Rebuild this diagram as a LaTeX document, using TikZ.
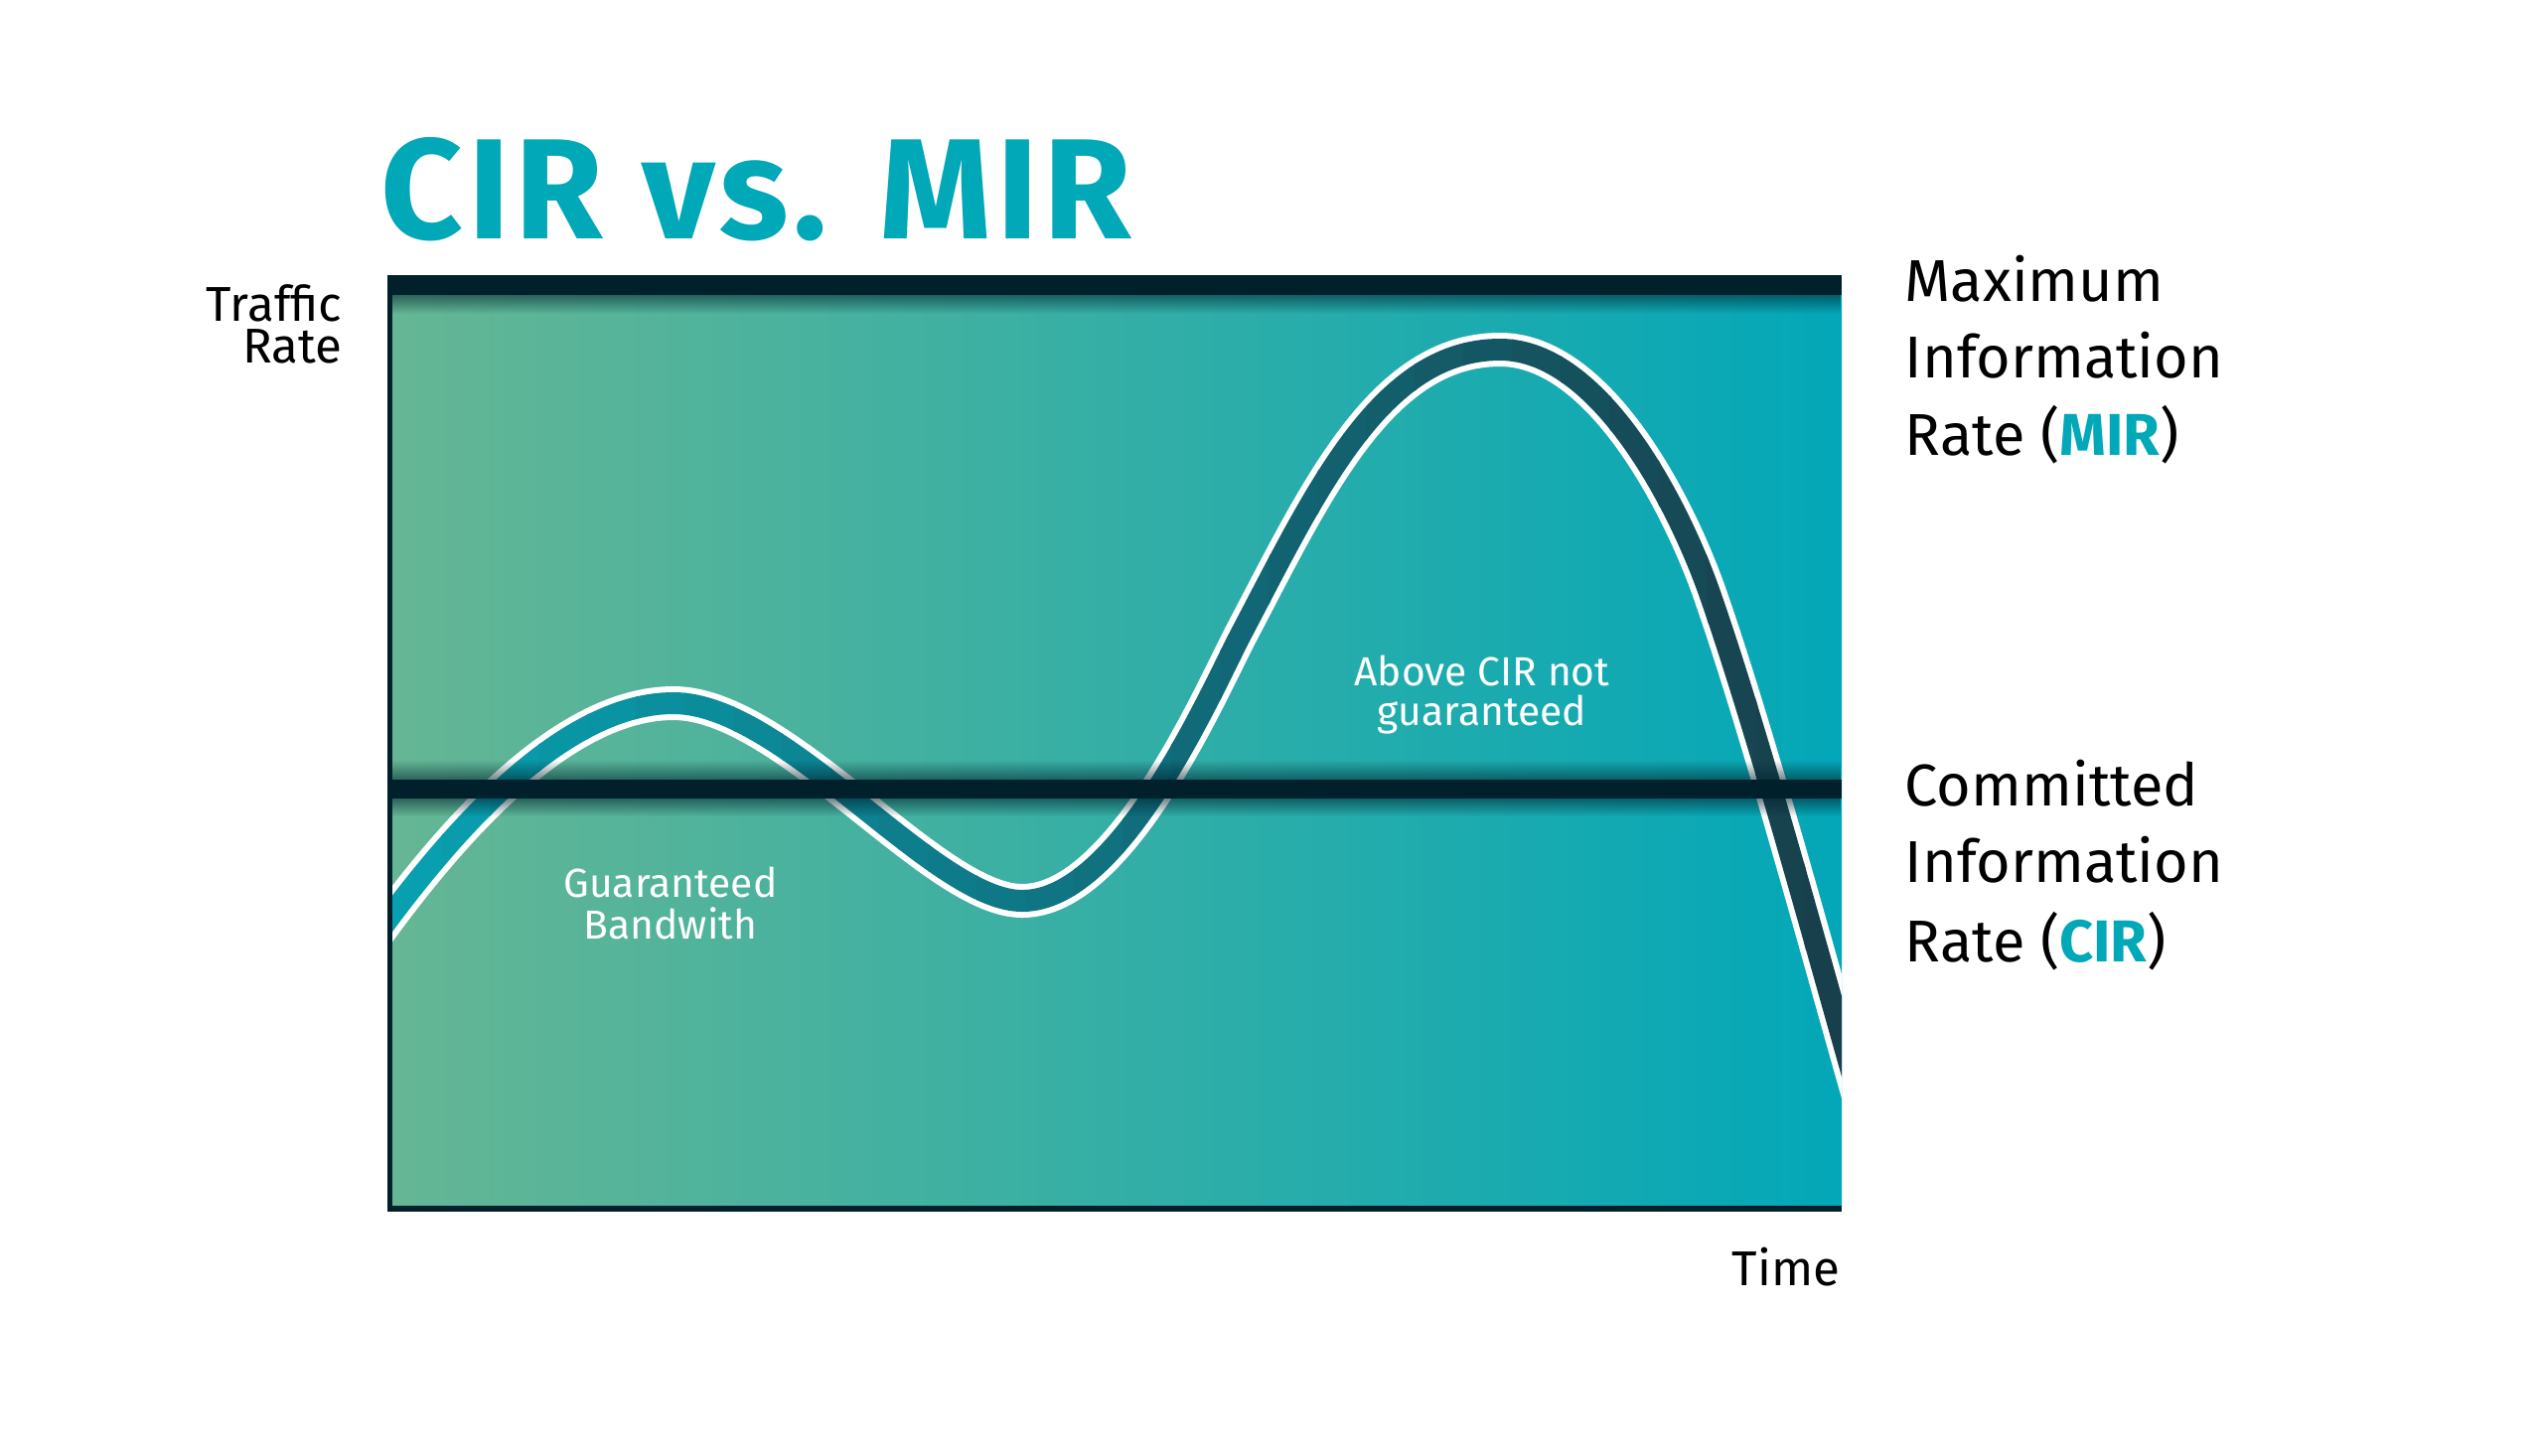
\documentclass[tikz,border=0pt]{standalone}
\usepackage{fontspec}
\setmainfont{Fira Sans}
\usepackage{xcolor}
\usetikzlibrary{fadings}

\definecolor{bgleft}{HTML}{65B694}
\definecolor{bgright}{HTML}{03A7B8}
\definecolor{bandleft}{HTML}{08A0B0}
\definecolor{bandright}{HTML}{18404C}
\definecolor{bardark}{HTML}{00212C}
\definecolor{cirteal}{HTML}{00A8B8}

\tikzfading[name=glowdown, top color=transparent!45, bottom color=transparent!100]
\tikzfading[name=glowup, top color=transparent!100, bottom color=transparent!45]

% traffic curve, centre line of the band
\newcommand\trafficcurve{(380,940) .. controls (460,830) and (570,708) .. (678,708)
  .. controls (790,708) and (940,907) .. (1029,907)
  .. controls (1129,907) and (1220,694) .. (1250,637)
  .. controls (1325,494.5) and (1390,352) .. (1510,352)
  .. controls (1610,352) and (1690,508) .. (1722,600)
  .. controls (1770,738) and (1830,960) .. (1872,1107)}

\begin{document}
\begin{tikzpicture}[x=0.01cm, y=-0.01cm,
    axislbl/.style={inner sep=0pt, font=\fontsize{14}{14}\selectfont},
    ratelbl/.style={inner sep=0pt, anchor=base west, font=\fontsize{16.9}{16.9}\selectfont},
    notelbl/.style={inner sep=0pt, anchor=base, text=white, font=\fontsize{11.6}{11.6}\selectfont}]
    \fill[white] (0,0) rectangle (2560,1465);
    \useasboundingbox (0,0) rectangle (2560,1465);
    % chart area
    \shade[left color=bgleft, right color=bgright] (395,297) rectangle (1854,1214);
    \begin{scope}
        \clip (395,297) rectangle (1854,1214);
        \draw[white, line width=9.67pt] \trafficcurve;
        \foreach \i in {0,...,29}{
            \pgfmathtruncatemacro\xa{395+\i*49}
            \pgfmathtruncatemacro\xb{\xa+51}
            \pgfmathtruncatemacro\mixval{100-\i*100/29}
            \begin{scope}
                \clip (\xa,200) rectangle (\xb,1300);
                \draw[line width=6.26pt, bandleft!\mixval!bandright] \trafficcurve;
            \end{scope}
        }
        \fill[bardark, path fading=glowdown] (395,297) rectangle (1854,316);
        \fill[bardark, path fading=glowup] (395,765) rectangle (1854,785);
        \fill[bardark, path fading=glowdown] (395,804) rectangle (1854,822);
    \end{scope}
    \fill[bardark] (390,277) rectangle (1854,297);
    \fill[bardark] (395,785) rectangle (1854,804);
    \fill[bardark] (390,277) rectangle (395,1220);
    \fill[bardark] (390,1214) rectangle (1854,1220);
    % texts
    \node[inner sep=0pt, anchor=base west, text=cirteal, font=\fontsize{40.9}{40.9}\selectfont\bfseries\addfontfeatures{LetterSpace=3.5}] (title) at (383,240) {CIR vs. MIR};
    \node[axislbl, anchor=base east] (traffic) at (345,323) {Traffic};
    \node[axislbl, anchor=base east] (rate) at (345,365) {Rate};
    \node[axislbl, anchor=base east] (time) at (1853,1294) {Time};
    \foreach \y/\txt [count=\n] in {303/Maximum, 380/Information, 458/{Rate (\textbf{\textcolor{cirteal}{MIR}})}}
        \node[ratelbl] (mir\n) at (1917,\y) {\txt};
    \foreach \y/\txt [count=\n] in {811/Committed, 888/Information, 968/{Rate (\textbf{\textcolor{cirteal}{CIR}})}}
        \node[ratelbl] (cir\n) at (1917,\y) {\txt};
    \node[notelbl] (guar1) at (675,903) {Guaranteed};
    \node[notelbl] (guar2) at (675,945) {Bandwith};
    \node[notelbl] (above1) at (1492,690) {Above CIR not};
    \node[notelbl] (above2) at (1492,730) {guaranteed};
\end{tikzpicture}
\end{document}
